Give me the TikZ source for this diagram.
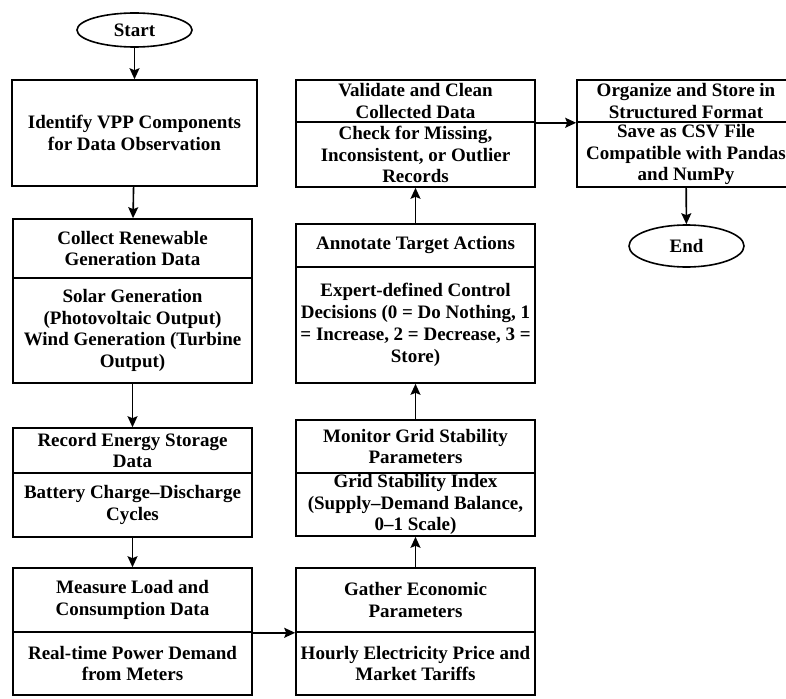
\documentclass[tikz,border=0pt]{standalone}
\usepackage{fontspec}
\setmainfont{Liberation Serif}
\usetikzlibrary{arrows.meta,shapes.geometric}
\tikzset{
  sec/.style={draw=black, line width=1.6pt, rectangle, inner sep=0pt, minimum width=#1},
  txt/.style={inner sep=0pt, align=center, font=\fontsize{19}{21.8}\selectfont\bfseries},
  term/.style={draw=black, line width=1.6pt, ellipse, inner sep=0pt, minimum width=115pt, font=\fontsize{19}{21}\selectfont\bfseries},
  arr/.style={line width=1.6pt, -{Stealth[length=11pt,width=10pt,inset=2pt]}}
}
\begin{document}
\begin{tikzpicture}[x=1pt,y=-1pt]
\useasboundingbox (0,0) rectangle (786,698);
\clip (0,0) rectangle (786,698);
% terminals
\node[term, minimum height=34pt] (start) at (134.5,30) {Start};
\node[term, minimum height=42pt] (end) at (686.5,246) {End};
% left column
\node[sec=245pt, minimum height=106pt] (b1) at (134.5,133) {};
\node[txt] (t1) at (b1) {Identify VPP Components\\for Data Observation};

\node[sec=239pt, minimum height=59pt] (b2a) at (132.5,248.5) {};
\node[sec=239pt, minimum height=105pt] (b2b) at (132.5,330.5) {};
\node[txt] (t2a) at (b2a) {Collect Renewable\\Generation Data};
\node[txt] (t2b) at (b2b) {Solar Generation\\(Photovoltaic Output)\\Wind Generation (Turbine\\Output)};

\node[sec=239pt, minimum height=45pt] (b3a) at (132.5,450.5) {};
\node[sec=239pt, minimum height=64pt] (b3b) at (132.5,505) {};
\node[txt] (t3a) at (b3a) {Record Energy Storage\\Data};
\node[txt] (t3b) at (b3b) {Battery Charge–Discharge\\Cycles};

\node[sec=239pt, minimum height=64pt] (b4a) at (132.5,600) {};
\node[sec=239pt, minimum height=63pt] (b4b) at (132.5,663.5) {};
\node[txt] (t4a) at (b4a) {Measure Load and\\Consumption Data};
\node[txt] (t4b) at (b4b) {Real-time Power Demand\\from Meters};
% right column
\node[sec=239pt, minimum height=64pt] (ga) at (415.5,600) {};
\node[sec=239pt, minimum height=63pt] (gb) at (415.5,663.5) {};
\node[txt] (tga) at (ga) {Gather Economic\\Parameters};
\node[txt] (tgb) at (gb) {Hourly Electricity Price and\\Market Tariffs};

\node[sec=239pt, minimum height=53pt] (ma) at (415.5,446.5) {};
\node[sec=239pt, minimum height=63pt] (mb) at (415.5,504.5) {};
\node[txt] (tma) at (ma) {Monitor Grid Stability\\Parameters};
\node[txt] (tmb) at (mb) {Grid Stability Index\\(Supply–Demand Balance,\\0–1 Scale)};

\node[sec=239pt, minimum height=43pt] (aa) at (415.5,245.5) {};
\node[sec=239pt, minimum height=116pt] (ab) at (415.5,325) {};
\node[txt] (taa) at (aa) {Annotate Target Actions};
\node[txt] (tab) at (ab) {Expert-defined Control\\Decisions (0 = Do Nothing, 1\\= Increase, 2 = Decrease, 3 =\\Store)};

\node[sec=239pt, minimum height=42pt] (va) at (415.5,101) {};
\node[sec=239pt, minimum height=65pt] (vb) at (415.5,154.5) {};
\node[txt] (tva) at (va) {Validate and Clean\\Collected Data};
\node[txt] (tvb) at (vb) {Check for Missing,\\Inconsistent, or Outlier\\Records};

\node[sec=218pt, minimum height=42pt] (oa) at (686,101) {};
\node[sec=218pt, minimum height=65pt] (ob) at (686,154.5) {};
\node[txt] (toa) at (oa) {Organize and Store in\\Structured Format};
\node[txt] (tob) at (ob) {Save as CSV File\\Compatible with Pandas\\and NumPy};
% connectors
\draw[arr] (start) -- (b1);
\draw[arr] (b1) -- (b2a);
\draw[arr] (b2b) -- (b3a);
\draw[arr] (b3b) -- (b4a);
\draw[arr] (b4a.south east) -- (ga.south west);
\draw[arr] (ga) -- (mb);
\draw[arr] (ma) -- (ab);
\draw[arr] (aa) -- (vb);
\draw[arr] (va.south east) -- (oa.south west);
\draw[arr] (ob) -- (end);
\end{tikzpicture}
\end{document}
